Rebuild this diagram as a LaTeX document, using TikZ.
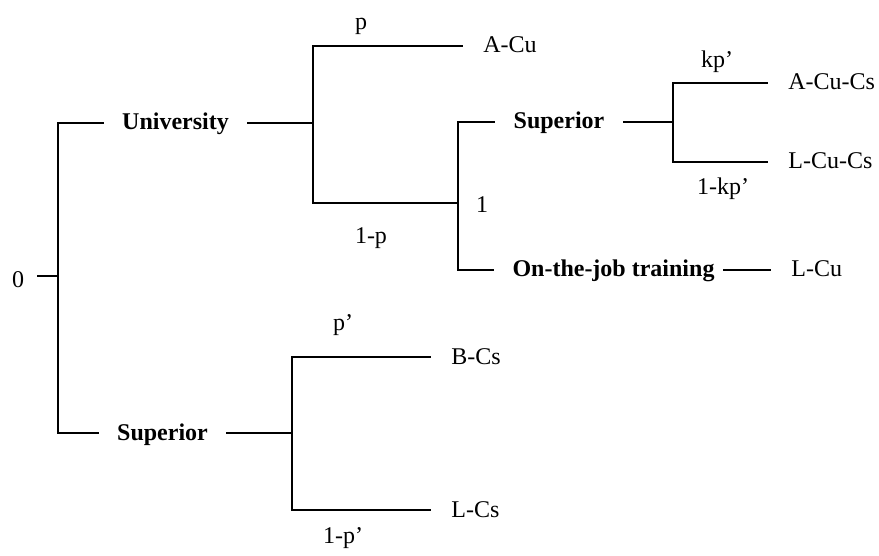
\documentclass[tikz,border=0pt]{standalone}
\usepackage{fontspec}
\setmainfont{Liberation Serif}
\usepackage{tikz}
\usetikzlibrary{positioning, calc}
\tikzset{
    txt/.style={font=\fontsize{12pt}{14pt}\selectfont, text height=7pt, text depth=0pt, inner ysep=1pt},
    stage/.style={txt, font=\fontsize{12pt}{14pt}\selectfont\bfseries, inner xsep=9.5pt},
    outcome/.style={txt, anchor=west, inner xsep=10.5pt},
    prob/.style={txt, inner xsep=1pt},
    branch/.style={line width=0.9pt, line cap=rect},
}

\begin{document}
\begin{tikzpicture}[x=0.5pt, y=-0.5pt]
                \useasboundingbox (0,0) rectangle (879,556);

                % === Root ===
                \node[prob, inner xsep=6.5pt] (zero) at (18, 280) {0};
                \coordinate (r) at (58, 276);

                % === First stage ===
                \node[stage] (uni) at (175.5, 123) {University};
                \node[stage] (supB) at (162.5, 433) {Superior};
                \draw[branch] (r -| zero.east) -- (r);
                \draw[branch] (uni.west) -| (r) |- (supB.west);

                % University branch
                \coordinate (ju) at (313, 123);
                \coordinate (j1) at (458, 203);
                \node[outcome] (acu) at (462, 46) {A-Cu};
                \node[prob] (pA) at (361, 23) {p};
                \node[prob] (pAc) at (371, 236) {1-p};
                \draw[branch] (uni.east) -- (ju);
                \draw[branch] (acu.west) -| (ju) |- (j1);

                % === Second stage ===
                \node[prob] (pOne) at (482, 206) {1};
                \node[stage] (supA) at (559, 122) {Superior};
                \node[stage] (ojt) at (613.5, 270) {On-the-job training};
                \node[outcome] (lcu) at (770, 270) {L-Cu};
                \draw[branch] (supA.west) -| (j1) |- (ojt.west);
                \draw[branch, shorten <=-5pt] (ojt.east) -- (lcu.west);

                % Superior after university
                \coordinate (jk) at (673, 122);
                \node[outcome] (acucs) at (767, 83) {A-Cu-Cs};
                \node[outcome] (lcucs) at (767, 162) {L-Cu-Cs};
                \node[prob] (pK) at (717, 61) {kp'};
                \node[prob] (pKc) at (723, 188) {1-kp'};
                \draw[branch] (supA.east) -- (jk);
                \draw[branch] (acucs.west) -| (jk) |- (lcucs.west);

                % Superior branch
                \coordinate (jb) at (292, 433);
                \node[outcome] (bcs) at (430, 357) {B-Cs};
                \node[outcome] (lcs) at (430, 510) {L-Cs};
                \node[prob] (pB) at (343, 323) {p'};
                \node[prob] (pBc) at (343, 536) {1-p'};
                \draw[branch] (supB.east) -- (jb);
                \draw[branch] (bcs.west) -| (jb) |- (lcs.west);
            \end{tikzpicture}
\end{document}
